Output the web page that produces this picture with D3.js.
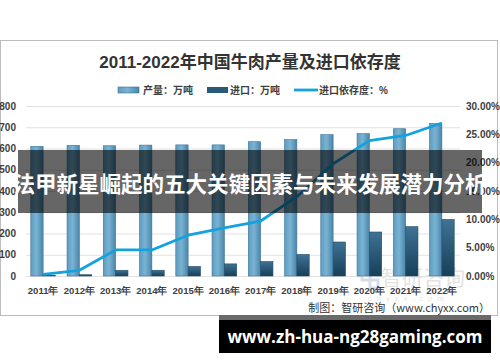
<!DOCTYPE html>
<html><head><meta charset="utf-8">
<script src="https://cdn.jsdelivr.net/npm/d3@7"></script>
<style>
html,body{margin:0;padding:0;background:#fff;}
svg{display:block;font-family:"Liberation Sans","Noto Sans CJK SC",sans-serif;}
</style></head>
<body>
<svg id="c" width="500" height="362"></svg>
<script>
const years = ["2011年","2012年","2013年","2014年","2015年","2016年","2017年","2018年","2019年","2020年","2021年","2022年"];
const production = [610, 615, 613, 616, 617, 617, 632, 642, 665, 670, 693, 718];
const imports = [2, 6, 27, 27, 45, 57, 68, 101, 160, 207, 232, 266];
const dependency = [0.3, 1.0, 4.6, 4.6, 7.2, 8.5, 9.7, 14.0, 19.8, 23.9, 24.8, 27.0];
const leftTicks = [0, 100, 200, 300, 400, 500, 600, 700, 800];
const rightTicks = [0, 5, 10, 15, 20, 25, 30];
const seriesNames = ["产量：万吨", "进口：万吨", "进口依存度：%"];
const titleText = "2011-2022年中国牛肉产量及进口依存度";
const sourceText = "制图：智研咨询（www.chyxx.com）";
const bannerText = "法甲新星崛起的五大关键因素与未来发展潜力分析";
const urlText = "www.zh-hua-ng28gaming.com";

const svg = d3.select("#c");
const defs = svg.append("defs");
const gp = defs.append("linearGradient").attr("id","gProd").attr("x1","0").attr("x2","1").attr("y1","0").attr("y2","0");
gp.append("stop").attr("offset","0").attr("stop-color","#5d9cc0");
gp.append("stop").attr("offset","0.45").attr("stop-color","#7ab3d3");
gp.append("stop").attr("offset","1").attr("stop-color","#4a86aa");
const gi = defs.append("linearGradient").attr("id","gImp").attr("x1","0").attr("x2","0").attr("y1","0").attr("y2","1");
gi.append("stop").attr("offset","0").attr("stop-color","#3f7294");
gi.append("stop").attr("offset","1").attr("stop-color","#173f58");

// frame
svg.append("rect").attr("x",0.5).attr("y",40.5).attr("width",497).attr("height",275)
  .attr("fill","#fff").attr("stroke","#bcbcbc");

// title
svg.append("text").attr("x",250).attr("y",68).attr("text-anchor","middle")
  .attr("font-size",17).attr("font-weight","bold").attr("fill","#333").text(titleText);

const x = d3.scaleBand().domain(years).range([25, 460]).padding(0);
const sub = d3.scaleBand().domain(["p","i"]).range([0, x.bandwidth()]).paddingInner(0).paddingOuter(0.47);
const y = d3.scaleLinear().domain([0, 800]).range([276, 106]);
const y2 = d3.scaleLinear().domain([0, 30]).range([276, 106]);

// gridlines
const grid = svg.append("g").attr("transform","translate(26,0)")
  .call(d3.axisLeft(y).tickValues(leftTicks).tickSize(-434).tickFormat(""));
grid.select(".domain").remove();
grid.selectAll("line").attr("stroke","#e2e2e2");

// watermark (behind marks)
const wm = svg.append("g");
wm.append("rect").attr("x",362).attr("y",272).attr("width",8).attr("height",8).attr("fill","none").attr("stroke","#d6dde5").attr("stroke-width",3);
wm.append("rect").attr("x",370).attr("y",280).attr("width",8).attr("height",8).attr("fill","none").attr("stroke","#d6dde5").attr("stroke-width",3);
wm.append("text").attr("x",381).attr("y",285).attr("font-size",21).attr("fill","#e3e3e3")
  .attr("font-family","Noto Sans CJK SC").text("智研咨询");
wm.append("text").attr("x",368).attr("y",301).attr("font-size",7.5).attr("fill","#e3e3e3")
  .attr("letter-spacing",5).text("chyxx.com");

// left axis
const la = svg.append("g").attr("transform","translate(16,0)")
  .call(d3.axisLeft(y).tickValues(leftTicks).tickSize(0).tickPadding(0));
la.select(".domain").remove();
la.selectAll("text").attr("font-size",10).attr("font-weight","bold").attr("fill","#404040")
  .attr("font-family","Liberation Sans, sans-serif");

// right axis
const ra = svg.append("g").attr("transform","translate(466,0)")
  .call(d3.axisRight(y2).tickValues(rightTicks).tickSize(0).tickPadding(0).tickFormat(d => d.toFixed(2) + "%"));
ra.select(".domain").remove();
ra.selectAll("text").attr("font-size",10).attr("font-weight","bold").attr("fill","#404040")
  .attr("font-family","Liberation Sans, sans-serif");

// x axis labels
const xa = svg.append("g").attr("transform","translate(0,287)")
  .call(d3.axisBottom(x).tickSize(0).tickPadding(0));
xa.select(".domain").remove();
xa.selectAll("text").attr("font-size",9.5).attr("font-weight","bold").attr("fill","#404040")
  .attr("dy","0.71em");

// bars
const bars = svg.append("g");
bars.selectAll(".p").data(years).join("rect").attr("class","p")
  .attr("x", (d) => x(d) + sub("p")).attr("width", sub.bandwidth())
  .attr("y", (d,i) => y(production[i])).attr("height", (d,i) => y(0) - y(production[i]))
  .attr("fill","url(#gProd)").attr("stroke","#3b7396").attr("stroke-width",0.6);
bars.selectAll(".i").data(years).join("rect").attr("class","i")
  .attr("x", (d) => x(d) + sub("i")).attr("width", sub.bandwidth())
  .attr("y", (d,i) => y(imports[i])).attr("height", (d,i) => y(0) - y(imports[i]))
  .attr("fill","url(#gImp)").attr("stroke","#1e4a66").attr("stroke-width",0.6);

// line
const line = d3.line().x((d,i) => x(years[i]) + x.bandwidth()/2).y(d => y2(d));
svg.append("path").datum(dependency).attr("d", line).attr("fill","none")
  .attr("stroke","#14a2de").attr("stroke-width",2.8).attr("stroke-linejoin","round");

// legend
const lg = svg.append("g").attr("font-size",10).attr("font-weight","bold").attr("fill","#404040");
lg.append("rect").attr("x",118).attr("y",87).attr("width",21).attr("height",6).attr("fill","url(#gProd)").attr("stroke","#3b7396").attr("stroke-width",0.6);
lg.append("text").attr("x",143).attr("y",94).text(seriesNames[0]);
lg.append("rect").attr("x",207).attr("y",87).attr("width",21).attr("height",6).attr("fill","#2a5a7a");
lg.append("text").attr("x",230).attr("y",94).text(seriesNames[1]);
lg.append("line").attr("x1",294).attr("x2",318).attr("y1",90).attr("y2",90).attr("stroke","#14a2de").attr("stroke-width",2.8);
lg.append("text").attr("x",319).attr("y",94).text(seriesNames[2]);

// source
svg.append("text").attr("x",490).attr("y",312).attr("text-anchor","end")
  .attr("font-size",11).attr("fill","#333").attr("font-family","Noto Sans CJK SC").text(sourceText);

// overlay banner
svg.append("rect").attr("x",18).attr("y",150).attr("width",464).attr("height",63)
  .attr("fill","#000").attr("fill-opacity",0.6);
svg.append("text").attr("x",250).attr("y",192).attr("text-anchor","middle")
  .attr("font-size",21.5).attr("font-weight","bold").attr("fill","#fff")
  .attr("font-family","Noto Sans CJK SC").text(bannerText);

// url banner
svg.append("rect").attr("x",219).attr("y",315).attr("width",272).attr("height",5).attr("fill","#6a6a6a");
svg.append("rect").attr("x",219).attr("y",320).attr("width",272).attr("height",33).attr("fill","#000");
svg.append("text").attr("x",355).attr("y",343).attr("text-anchor","middle")
  .attr("font-size",17).attr("font-weight","bold").attr("fill","#fff")
  .attr("font-family","Open Sans, sans-serif").text(urlText);
</script>
</body></html>
